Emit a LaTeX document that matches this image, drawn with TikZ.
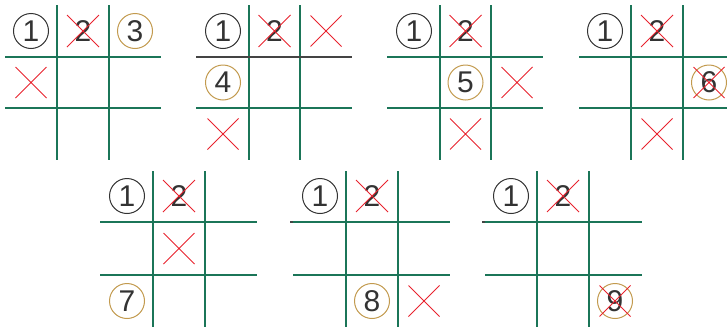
\documentclass[tikz,border=0pt]{standalone}
\usepackage{fontspec}
\setmainfont{Liberation Sans}
\usetikzlibrary{shapes.misc}
\definecolor{gridgreen}{HTML}{1B7558}
\definecolor{xred}{HTML}{E8232E}
\definecolor{gold}{HTML}{C29A4E}
\definecolor{ink}{HTML}{333333}
\definecolor{darkline}{HTML}{444444}
\tikzset{
  gline/.style={draw=gridgreen, line width=2pt},
  dline/.style={draw=darkline, line width=2pt},
  numc/.style={circle, draw=#1, line width=1pt, minimum size=35pt, inner sep=0pt, text=ink, font=\fontsize{30}{30}\selectfont},
  dig/.style={inner sep=0pt, text=ink, font=\fontsize{30}{30}\selectfont},
  xmark/.style={cross out, draw=xred, line width=1pt, minimum size=30pt, inner sep=0pt},
  xbig/.style={xmark, minimum size=31pt},
}
% #1 name, #2 a, #3 b (vertical lines), #4 p, #5 q (horizontal lines), #6 L, #7 R, #8 T, #9 B
\newcommand\tttgrid[9]{%
  \coordinate (#1-0-0) at ({#2-26},{#4-26});
  \coordinate (#1-0-1) at ({(#2+#3)/2},{#4-26});
  \coordinate (#1-0-2) at ({#3+26},{#4-26});
  \coordinate (#1-1-0) at ({#2-26},{(#4+#5)/2});
  \coordinate (#1-1-1) at ({(#2+#3)/2},{(#4+#5)/2});
  \coordinate (#1-1-2) at ({#3+26},{(#4+#5)/2});
  \coordinate (#1-2-0) at ({#2-26},{#5+26});
  \coordinate (#1-2-1) at ({(#2+#3)/2},{#5+26});
  \coordinate (#1-2-2) at ({#3+26},{#5+26});
  \coordinate (#1-va0) at (#2,#8); \coordinate (#1-va1) at (#2,#9);
  \coordinate (#1-vb0) at (#3,#8); \coordinate (#1-vb1) at (#3,#9);
  \coordinate (#1-hp0) at (#6,#4); \coordinate (#1-hp1) at (#7,#4);
  \coordinate (#1-hq0) at (#6,#5); \coordinate (#1-hq1) at (#7,#5);
  \draw[gline] (#1-va0) -- (#1-va1);
  \draw[gline] (#1-vb0) -- (#1-vb1);
  \draw[gline] (#1-hq0) -- (#1-hq1);
}
\begin{document}
\begin{tikzpicture}[x=1pt,y=-1pt]
\useasboundingbox (0,0) rectangle (727,327);
% ---------- grid 1
\tttgrid{g1}{57}{109}{57}{108}{5}{161}{5}{160}
\draw[gline] (g1-hp0) -- (g1-hp1);
\node[numc=ink] (g1n1) at (g1-0-0) {1};
\node[dig] (g1n2) at (g1-0-1) {2};
\node[xbig] (g1x2) at (g1-0-1) {};
\node[numc=gold] (g1n3) at (g1-0-2) {3};
\node[xmark] (g1x4) at (g1-1-0) {};
% ---------- grid 2
\tttgrid{g2}{249}{300}{57}{108}{196}{352}{5}{160}
\draw[dline] (g2-hp0) -- (g2-hp1);
\node[numc=ink] (g2n1) at (g2-0-0) {1};
\node[dig] (g2n2) at (g2-0-1) {2};
\node[xbig] (g2x2) at (g2-0-1) {};
\node[xmark] (g2x3) at (g2-0-2) {};
\node[numc=gold] (g2n4) at (g2-1-0) {4};
\node[xmark] (g2x7) at (g2-2-0) {};
% ---------- grid 3
\tttgrid{g3}{440}{491}{57}{108}{387}{543}{5}{160}
\draw[gline] (g3-hp0) -- (g3-hp1);
\node[numc=ink] (g3n1) at (g3-0-0) {1};
\node[dig] (g3n2) at (g3-0-1) {2};
\node[xbig] (g3x2) at (g3-0-1) {};
\node[numc=gold] (g3n5) at (g3-1-1) {5};
\node[xmark] (g3x6) at (g3-1-2) {};
\node[xmark] (g3x8) at (g3-2-1) {};
% ---------- grid 4
\tttgrid{g4}{631}{683}{57}{108}{579}{735}{5}{160}
\draw[gline] (g4-hp0) -- (g4-hp1);
\node[numc=ink] (g4n1) at (g4-0-0) {1};
\node[dig] (g4n2) at (g4-0-1) {2};
\node[xbig] (g4x2) at (g4-0-1) {};
\node[numc=gold] (g4n6) at (g4-1-2) {6};
\node[xmark] (g4x6) at (g4-1-2) {};
\node[xmark] (g4x8) at (g4-2-1) {};
% ---------- grid 5
\tttgrid{g5}{153}{205}{222}{275}{100}{257}{171}{327}
\draw[gline] (g5-hp0) -- (g5-hp1);
\node[numc=ink] (g5n1) at (g5-0-0) {1};
\node[dig] (g5n2) at (g5-0-1) {2};
\node[xbig] (g5x2) at (g5-0-1) {};
\node[xmark] (g5x5) at (g5-1-1) {};
\node[numc=gold] (g5n7) at (g5-2-0) {7};
% ---------- grid 6
\tttgrid{g6}{346}{398}{222}{275}{293}{450}{171}{327}
\coordinate (g6-stub) at (290,222);
\draw[dline] (g6-stub) -- (g6-hp1);
\draw[gline] (g6-hp0) -- (g6-hp1);
\node[numc=ink] (g6n1) at (g6-0-0) {1};
\node[dig] (g6n2) at (g6-0-1) {2};
\node[xbig] (g6x2) at (g6-0-1) {};
\node[numc=gold] (g6n8) at (g6-2-1) {8};
\node[xmark] (g6x9) at (g6-2-2) {};
% ---------- grid 7
\tttgrid{g7}{537}{589}{222}{275}{485}{642}{171}{327}
\coordinate (g7-stub) at (482,222);
\draw[dline] (g7-stub) -- (g7-hp1);
\draw[gline] (g7-hp0) -- (g7-hp1);
\node[numc=ink] (g7n1) at (g7-0-0) {1};
\node[dig] (g7n2) at (g7-0-1) {2};
\node[xbig] (g7x2) at (g7-0-1) {};
\node[numc=gold] (g7n9) at (g7-2-2) {9};
\node[xmark] (g7x9) at (g7-2-2) {};
\end{tikzpicture}
\end{document}
